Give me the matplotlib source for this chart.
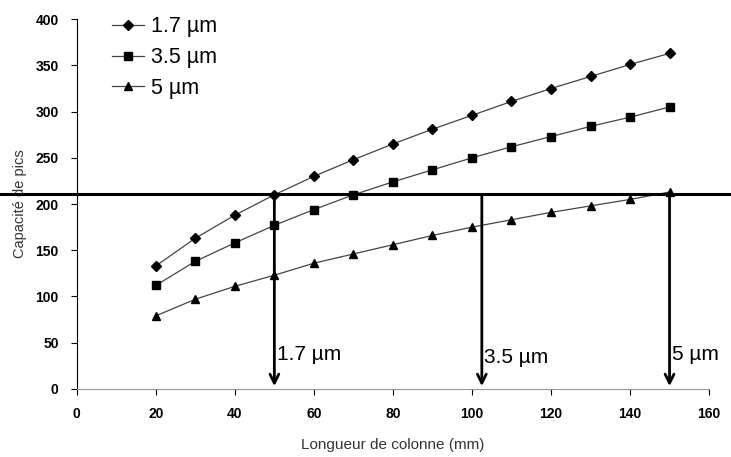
import matplotlib
matplotlib.use("Agg")
import matplotlib.pyplot as plt
from matplotlib import font_manager

# column length (mm)
lengths = [20, 30, 40, 50, 60, 70, 80, 90, 100, 110, 120, 130, 140, 150]
peaks_17 = [133, 163, 188, 210, 230, 248, 265, 281, 296, 311, 325, 338, 351, 363]
peaks_35 = [112, 138, 158, 177, 194, 210, 224, 237, 250, 262, 273, 284, 294, 305]
peaks_5 = [79, 97, 111, 123, 136, 146, 156, 166, 175, 183, 191, 198, 205, 213]
series_labels = ["1.7 µm", "3.5 µm", "5 µm"]

target_capacity = 211
arrow_x = [50, 102.5, 150]
arrow_labels = ["1.7 µm", "3.5 µm", "5 µm"]
arrow_label_y = [37, 34, 37]

names = {f.name for f in font_manager.fontManager.ttflist}
narrow = "Liberation Sans Narrow" if "Liberation Sans Narrow" in names else "Liberation Sans"
plt.rcParams["font.family"] = ["Liberation Sans", "DejaVu Sans"]

fig = plt.figure(figsize=(7.31, 4.57), dpi=100)
ax = fig.add_axes([0.105, 0.149, 0.865, 0.809])

for y, m, ms, lab in zip([peaks_17, peaks_35, peaks_5], ["D", "s", "^"], [5, 6, 6], series_labels):
    ax.plot(lengths, y, color="#444444", lw=0.9, marker=m, ms=ms,
            mfc="black", mec="black", label=lab)

ax.set_xlim(0, 160)
ax.set_ylim(0, 400)
ax.set_xticks(range(0, 161, 20))
ax.set_yticks(range(0, 401, 50))
for s in ["top", "right"]:
    ax.spines[s].set_visible(False)
ax.spines["left"].set_color("black")
ax.spines["bottom"].set_color("#999999")
ax.tick_params(axis="both", direction="out", length=4, labelsize=10)
ax.tick_params(axis="x", pad=9)
ax.tick_params(axis="y", pad=9)
for t in ax.get_xticklabels() + ax.get_yticklabels():
    t.set_fontweight("bold")
ax.set_xlabel("Longueur de colonne (mm)", fontsize=11, color="#333333", labelpad=12)
ax.set_ylabel("Capacité de pics", fontsize=10.5, color="#333333", labelpad=6)

# horizontal target line across the whole figure width
ax.plot([-20, 166], [target_capacity, target_capacity], color="black", lw=2.2, clip_on=False)

for x, lab, ly in zip(arrow_x, arrow_labels, arrow_label_y):
    ax.annotate("", xy=(x, 0), xytext=(x, target_capacity),
                arrowprops=dict(arrowstyle="->", color="black", lw=2, mutation_scale=16),
                annotation_clip=False)
    ax.text(x + 0.6, ly, lab, fontsize=15, family=[narrow, "DejaVu Sans"],
            ha="left", va="center")

leg = ax.legend(loc="upper left", bbox_to_anchor=(0.025, 1.06), frameon=False,
                fontsize=15.5, handlelength=1.5, handletextpad=0.3, labelspacing=0.45)

fig.savefig("out.png", dpi=100)
